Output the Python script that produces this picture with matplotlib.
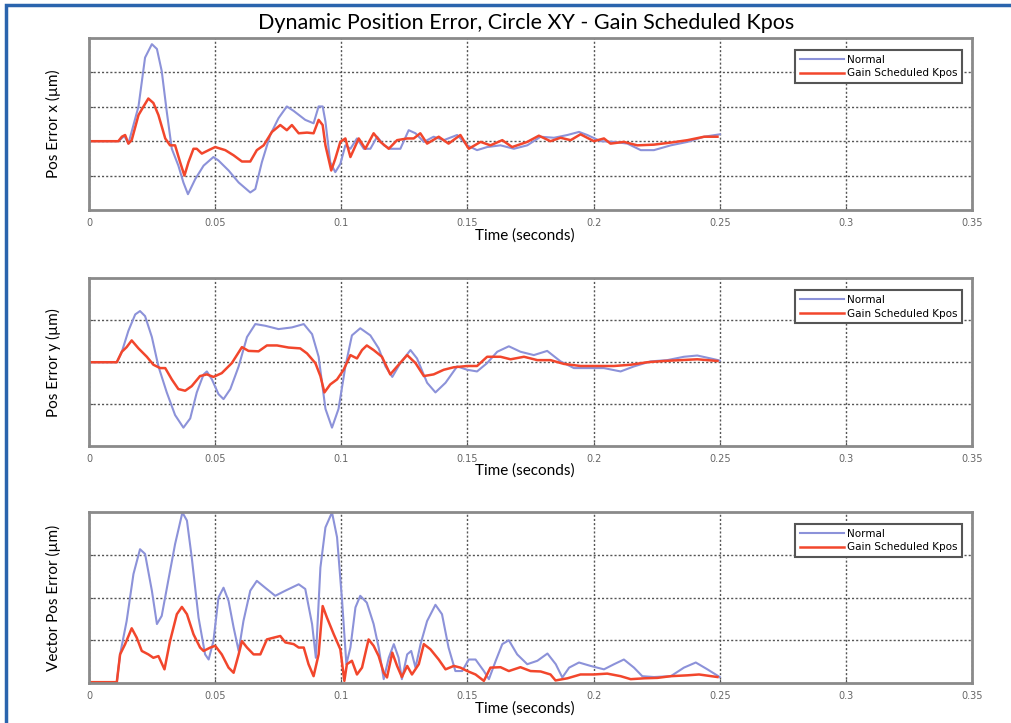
import matplotlib
matplotlib.use("Agg")
import matplotlib.pyplot as plt
from matplotlib.patches import Rectangle

# ---- data (time in s, error in um) ----
# Pos Error x
tx_normal = [0, 0.0116, 0.0140, 0.0156, 0.0196, 0.0222, 0.0249, 0.0269, 0.0288, 0.0308, 0.0328,
             0.0354, 0.0374, 0.0392, 0.0421, 0.0454, 0.0493, 0.0513, 0.0553, 0.0593, 0.0639,
             0.0659, 0.0685, 0.0718, 0.0751, 0.0784, 0.0811, 0.0857, 0.0890, 0.0910, 0.0926,
             0.0937, 0.0956, 0.0976, 0.0996, 0.1016, 0.1036, 0.1062, 0.1089, 0.1115, 0.1142,
             0.1169, 0.1194, 0.1234, 0.1267, 0.1294, 0.1327, 0.1366, 0.1406, 0.1459, 0.1499,
             0.1538, 0.1578, 0.1631, 0.1684, 0.1737, 0.1790, 0.1843, 0.1896, 0.1942, 0.1975,
             0.2028, 0.2081, 0.2134, 0.2187, 0.2239, 0.2306, 0.2372, 0.2438, 0.2500]
x_normal = [0, 0, 0.15, -0.07, 1.01, 2.43, 2.82, 2.68, 2.04, 0.86, -0.22,
            -0.71, -1.20, -1.54, -1.10, -0.71, -0.46, -0.56, -0.85, -1.20, -1.49,
            -1.39, -0.61, 0.18, 0.67, 1.01, 0.88, 0.62, 0.52, 1.01, 1.01,
            0.57, -0.61, -0.90, -0.66, -0.12, -0.22, 0.08, -0.22, -0.22, 0.13,
            -0.12, -0.22, -0.22, 0.32, 0.23, -0.02, 0.13, 0.03, 0.18, -0.12,
            -0.26, -0.17, -0.12, -0.22, -0.12, 0.13, 0.10, 0.18, 0.27, 0.18,
            0.0, -0.02, -0.07, -0.26, -0.26, -0.12, -0.02, 0.13, 0.20]
tx_gain = [0, 0.0116, 0.0130, 0.0143, 0.0156, 0.0169, 0.0196, 0.0216, 0.0235, 0.0255, 0.0275,
           0.0302, 0.0321, 0.0341, 0.0361, 0.0378, 0.0394, 0.0414, 0.0427, 0.0447, 0.0474,
           0.0500, 0.0540, 0.0573, 0.0606, 0.0639, 0.0665, 0.0692, 0.0725, 0.0758, 0.0784,
           0.0804, 0.0831, 0.0864, 0.0890, 0.0910, 0.0926, 0.0937, 0.0960, 0.0976, 0.0996,
           0.1016, 0.1036, 0.1069, 0.1095, 0.1128, 0.1155, 0.1188, 0.1221, 0.1261, 0.1287,
           0.1313, 0.1340, 0.1386, 0.1425, 0.1472, 0.1505, 0.1552, 0.1591, 0.1638, 0.1677,
           0.1737, 0.1783, 0.1829, 0.1869, 0.1909, 0.1948, 0.2001, 0.2041, 0.2067, 0.2120,
           0.2173, 0.2239, 0.2306, 0.2372, 0.2438, 0.2491]
x_gain = [0, 0, 0.13, 0.18, -0.07, 0.03, 0.76, 1.01, 1.24, 1.11, 0.76,
          0.08, -0.12, -0.12, -0.61, -1.0, -0.61, -0.22, -0.22, -0.36, -0.26,
          -0.17, -0.26, -0.41, -0.59, -0.59, -0.26, -0.12, 0.27, 0.47, 0.32,
          0.47, 0.23, 0.25, 0.23, 0.62, 0.47, -0.12, -0.85, -0.51, -0.02,
          0.08, -0.46, 0.08, -0.22, 0.23, -0.02, -0.22, 0.03, 0.08, 0.08,
          0.23, -0.07, 0.13, -0.07, 0.18, -0.22, -0.02, -0.12, 0.03, -0.17,
          -0.02, 0.16, 0.0, 0.10, 0.03, 0.20, 0.0, 0.08, -0.07, -0.02,
          -0.12, -0.10, -0.04, 0.03, 0.13, 0.13]

# Pos Error y
ty_normal = [0, 0.0110, 0.0130, 0.0156, 0.0183, 0.0202, 0.0222, 0.0249, 0.0275, 0.0308, 0.0341,
             0.0374, 0.0401, 0.0427, 0.0454, 0.0467, 0.0487, 0.0513, 0.0533, 0.0560, 0.0593,
             0.0626, 0.0659, 0.0698, 0.0751, 0.0804, 0.0851, 0.0884, 0.0910, 0.0937, 0.0963,
             0.0989, 0.1016, 0.1042, 0.1075, 0.1115, 0.1148, 0.1175, 0.1202, 0.1234, 0.1274,
             0.1300, 0.1340, 0.1373, 0.1413, 0.1459, 0.1499, 0.1538, 0.1578, 0.1618, 0.1664,
             0.1710, 0.1763, 0.1816, 0.1869, 0.1922, 0.1975, 0.2041, 0.2107, 0.2160, 0.2226,
             0.2292, 0.2358, 0.2411, 0.2464, 0.2500]
y_normal = [0, 0, 0.25, 0.75, 1.14, 1.22, 1.10, 0.60, -0.10, -0.72, -1.26,
            -1.56, -1.34, -0.72, -0.29, -0.22, -0.41, -0.76, -0.88, -0.64, -0.10,
            0.60, 0.91, 0.87, 0.79, 0.83, 0.91, 0.67, 0.13, -1.11, -1.56,
            -1.11, -0.10, 0.64, 0.81, 0.64, 0.33, -0.10, -0.35, -0.02, 0.29,
            0.09, -0.49, -0.72, -0.49, -0.10, -0.18, -0.22, -0.02, 0.25, 0.38,
            0.25, 0.17, 0.27, 0.02, -0.14, -0.14, -0.14, -0.22, -0.10, 0.02,
            0.05, 0.13, 0.16, 0.09, 0.04]
ty_gain = [0, 0.0110, 0.0130, 0.0149, 0.0169, 0.0196, 0.0229, 0.0255, 0.0282, 0.0302, 0.0328,
           0.0354, 0.0381, 0.0407, 0.0440, 0.0467, 0.0493, 0.0526, 0.0566, 0.0606, 0.0632,
           0.0672, 0.0705, 0.0745, 0.0791, 0.0837, 0.0864, 0.0897, 0.0917, 0.0933, 0.0956,
           0.0983, 0.1009, 0.1036, 0.1062, 0.1082, 0.1101, 0.1128, 0.1161, 0.1194, 0.1227,
           0.1261, 0.1294, 0.1327, 0.1366, 0.1406, 0.1446, 0.1499, 0.1538, 0.1578, 0.1631,
           0.1671, 0.1724, 0.1777, 0.1829, 0.1882, 0.1948, 0.2014, 0.2081, 0.2147, 0.2213,
           0.2280, 0.2345, 0.2411, 0.2491]
y_gain = [0, 0, 0.25, 0.36, 0.52, 0.33, 0.13, -0.06, -0.14, -0.14, -0.41,
          -0.64, -0.68, -0.57, -0.33, -0.29, -0.35, -0.26, -0.02, 0.36, 0.27,
          0.26, 0.40, 0.40, 0.35, 0.33, 0.21, -0.02, -0.33, -0.72, -0.53,
          -0.41, -0.18, 0.17, 0.09, 0.29, 0.40, 0.29, 0.13, -0.29, -0.06,
          0.17, -0.02, -0.33, -0.29, -0.18, -0.12, -0.09, -0.09, 0.13, 0.13,
          0.07, 0.13, 0.05, 0.05, -0.04, -0.09, -0.09, -0.09, -0.06, 0.0,
          0.03, 0.05, 0.07, 0.03]

# Vector Pos Error
tv_normal = [0, 0.0110, 0.0123, 0.0149, 0.0176, 0.0202, 0.0222, 0.0249, 0.0269, 0.0288, 0.0315,
             0.0341, 0.0370, 0.0388, 0.0407, 0.0434, 0.0460, 0.0474, 0.0493, 0.0513, 0.0533,
             0.0553, 0.0573, 0.0593, 0.0612, 0.0639, 0.0665, 0.0698, 0.0738, 0.0778, 0.0831,
             0.0857, 0.0884, 0.0899, 0.0917, 0.0937, 0.0963, 0.0983, 0.1003, 0.1020, 0.1036,
             0.1056, 0.1075, 0.1101, 0.1128, 0.1148, 0.1168, 0.1188, 0.1208, 0.1227, 0.1240,
             0.1261, 0.1277, 0.1294, 0.1314, 0.1340, 0.1373, 0.1399, 0.1425, 0.1452, 0.1479,
             0.1505, 0.1532, 0.1565, 0.1585, 0.1612, 0.1638, 0.1664, 0.1697, 0.1737, 0.1777,
             0.1817, 0.1850, 0.1876, 0.1903, 0.1942, 0.1988, 0.2041, 0.2081, 0.2120, 0.2160,
             0.2193, 0.2239, 0.2306, 0.2358, 0.2405, 0.2451, 0.2500]
v_normal = [0.02, 0.02, 0.67, 1.45, 2.55, 3.13, 3.02, 2.16, 1.38, 1.57, 2.43,
            3.25, 3.99, 3.80, 2.94, 1.53, 0.67, 0.55, 0.98, 2.0, 2.23,
            1.92, 1.30, 0.75, 1.45, 2.16, 2.39, 2.23, 2.04, 2.16, 2.31,
            2.20, 1.38, 0.59, 2.70, 3.64, 3.99, 3.41, 1.92, 0.44, 0.83,
            1.77, 2.04, 1.88, 1.38, 0.83, 0.09, 0.59, 0.91, 0.59, 0.09,
            0.67, 0.75, 0.36, 0.91, 1.45, 1.83, 1.61, 0.83, 0.28, 0.28,
            0.55, 0.55, 0.28, 0.09, 0.52, 0.91, 1.0, 0.67, 0.44, 0.52,
            0.69, 0.44, 0.13, 0.36, 0.48, 0.40, 0.32, 0.44, 0.55, 0.36,
            0.16, 0.14, 0.16, 0.36, 0.48, 0.32, 0.14]
tv_gain = [0, 0.0110, 0.0123, 0.0143, 0.0169, 0.0189, 0.0209, 0.0235, 0.0255, 0.0275, 0.0299,
           0.0321, 0.0348, 0.0368, 0.0388, 0.0414, 0.0440, 0.0454, 0.0481, 0.0500, 0.0526,
           0.0553, 0.0573, 0.0593, 0.0606, 0.0626, 0.0652, 0.0679, 0.0705, 0.0731, 0.0758,
           0.0778, 0.0811, 0.0831, 0.0851, 0.0870, 0.0890, 0.0910, 0.0926, 0.0943, 0.0970,
           0.0996, 0.1012, 0.1022, 0.1042, 0.1062, 0.1082, 0.1108, 0.1128, 0.1148, 0.1168,
           0.1181, 0.1202, 0.1221, 0.1240, 0.1261, 0.1280, 0.1307, 0.1327, 0.1353, 0.1386,
           0.1413, 0.1446, 0.1472, 0.1499, 0.1532, 0.1565, 0.1591, 0.1631, 0.1664, 0.1710,
           0.1750, 0.1790, 0.1829, 0.1849, 0.1896, 0.1948, 0.2001, 0.2054, 0.2107, 0.2147,
           0.2200, 0.2253, 0.2306, 0.2372, 0.2418, 0.2491]
v_gain = [0.02, 0.02, 0.67, 0.91, 1.28, 1.06, 0.75, 0.67, 0.59, 0.63, 0.32,
          0.98, 1.61, 1.78, 1.61, 1.14, 0.83, 0.75, 0.83, 0.87, 0.67,
          0.36, 0.24, 0.67, 0.98, 0.83, 0.67, 0.67, 1.02, 1.06, 1.10,
          0.95, 0.91, 0.83, 0.83, 0.44, 0.16, 0.67, 1.80, 1.53, 1.14,
          0.79, 0.05, 0.44, 0.52, 0.20, 0.36, 1.02, 0.87, 0.63, 0.24,
          0.13, 0.71, 0.40, 0.14, 0.40, 0.20, 0.44, 0.91, 0.79, 0.55,
          0.32, 0.40, 0.36, 0.28, 0.20, 0.05, 0.36, 0.37, 0.28, 0.37,
          0.28, 0.27, 0.20, 0.06, 0.11, 0.20, 0.20, 0.22, 0.16, 0.09,
          0.11, 0.12, 0.16, 0.18, 0.20, 0.14]

xticks = [0, 0.05, 0.1, 0.15, 0.2, 0.25, 0.3, 0.35]
xticklabels = ["0", "0.05", "0.1", "0.15", "0.2", "0.25", "0.3", "0.35"]

panels = [
    (tx_normal, x_normal, tx_gain, x_gain, "Pos Error x (\u00b5m)", (-2, 3), [-1, 0, 1, 2]),
    (ty_normal, y_normal, ty_gain, y_gain, "Pos Error y (\u00b5m)", (-2, 2), [-1, 0, 1]),
    (tv_normal, v_normal, tv_gain, v_gain, "Vector Pos Error (\u00b5m)", (0, 4), [1, 2, 3]),
]

FONT = ["Lato", "DejaVu Sans"]
BLUE = "#8c92d9"
RED = "#f2462c"

fig = plt.figure(figsize=(10.12, 7.23), dpi=100)

# blue frame round the figure
fig.patches.append(Rectangle((6 / 1012, -0.01), 1.0, 1 - 5 / 723 + 0.01, transform=fig.transFigure,
                             fill=False, edgecolor="#2a64ad", linewidth=2.5))

fig.text(0.52, 0.968, "Dynamic Position Error, Circle XY - Gain Scheduled Kpos",
         ha="center", va="center", fontsize=15.5, family=FONT)

boxes = [(0.088, 0.7095, 0.8725, 0.238),
         (0.088, 0.383, 0.8725, 0.232),
         (0.088, 0.0553, 0.8725, 0.2365)]

for box, (tn, yn, tg, yg, ylabel, ylim, yt) in zip(boxes, panels):
    ax = fig.add_axes(box)
    ax.plot(tn, yn, color=BLUE, linewidth=1.5, label="Normal")
    ax.plot(tg, yg, color=RED, linewidth=1.8, label="Gain Scheduled Kpos")
    ax.set_xlim(0, 0.35)
    ax.set_ylim(*ylim)
    ax.set_xticks(xticks)
    ax.set_xticklabels(xticklabels, fontsize=7, color="#666666")
    ax.set_yticks(yt)
    ax.set_yticklabels([])
    ax.tick_params(direction="in", length=3, color="#555555", pad=6)
    ax.grid(True, linestyle=(0, (1.5, 1.5)), color="#555555", linewidth=1.0)
    for s in ax.spines.values():
        s.set_color("#8a8a8a")
        s.set_linewidth(2)
    ax.set_xlabel("Time (seconds)", fontsize=11, family=FONT, labelpad=0)
    ax.xaxis.set_label_coords(0.494, -0.105)
    ax.set_ylabel(ylabel, fontsize=11, family=FONT, labelpad=14)
    leg = ax.legend(loc="upper right", bbox_to_anchor=(0.9945, 0.96), fontsize=7.5,
                    fancybox=False, framealpha=1, edgecolor="#555555",
                    handlelength=4.2, handletextpad=0.3, borderpad=0.45, labelspacing=0.35)
    leg.get_frame().set_linewidth(1.5)

fig.savefig("out.png", dpi=100)
